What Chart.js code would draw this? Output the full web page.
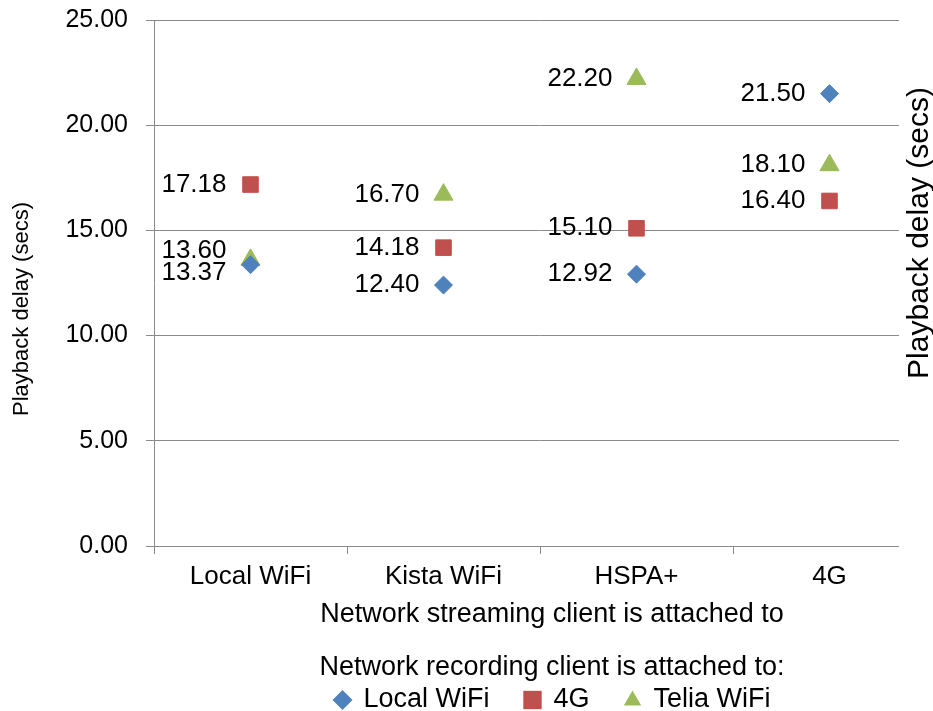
<!DOCTYPE html>
<html>
<head>
<meta charset="utf-8">
<script src="https://cdn.jsdelivr.net/npm/chart.js@4.4.1/dist/chart.umd.min.js"></script>
<style>
  html, body { margin: 0; padding: 0; background: #fff; }
  #wrap { width: 933px; height: 711px; position: relative; }
</style>
</head>
<body>
<div id="wrap"><canvas id="chart"></canvas></div>
<script>
// x axis: network the streaming client is attached to
const categories = ['Local WiFi', 'Kista WiFi', 'HSPA+', '4G'];

// playback delay (secs), one list per recording-client network
const localWifi = [13.37, 12.40, 12.92, 21.50];
const fourG     = [17.18, 14.18, 15.10, 16.40];
const teliaWifi = [13.60, 16.70, 22.20, 18.10];

const seriesNames = ['Local WiFi', '4G', 'Telia WiFi'];
const yTicks = [0, 5, 10, 15, 20, 25];

const FONT = '"Liberation Sans", Arial, sans-serif';
const GRID = '#8a8a8a';
const colors = ['#4f81bd', '#c0504d', '#9bbb59'];
const styles = ['rectRot', 'rect', 'triangle'];
const radii = [9, 11, 11];

// value labels left of each marker, nudged apart when they collide
const valueLabels = {
    id: 'valueLabels',
    afterDatasetsDraw(chart) {
        const ctx = chart.ctx;
        const byIndex = {};
        chart.data.datasets.forEach((ds, di) => {
            const meta = chart.getDatasetMeta(di);
            meta.data.forEach((pt, i) => {
                (byIndex[i] = byIndex[i] || []).push({ x: pt.x, y: pt.y, v: ds.data[i] });
            });
        });
        ctx.save();
        ctx.font = '26px ' + FONT;
        ctx.fillStyle = '#000';
        ctx.textAlign = 'right';
        ctx.textBaseline = 'middle';
        Object.values(byIndex).forEach(list => {
            list.sort((a, b) => a.y - b.y);
            for (let k = 1; k < list.length; k++) {
                const a = list[k - 1], b = list[k];
                if (b.y - a.y < 22) {
                    const mid = (a.y + b.y) / 2;
                    a.y = mid - 11;
                    b.y = mid + 11;
                }
            }
            list.forEach(l => ctx.fillText(l.v.toFixed(2), l.x - 24, l.y));
        });
        ctx.restore();
    }
};

function drawMarker(ctx, style, x, y, r) {
    ctx.beginPath();
    if (style === 'rectRot') {
        ctx.moveTo(x, y - r); ctx.lineTo(x + r, y); ctx.lineTo(x, y + r); ctx.lineTo(x - r, y);
    } else if (style === 'rect') {
        const s = r * Math.SQRT1_2;
        ctx.rect(x - s, y - s, 2 * s, 2 * s);
    } else {
        ctx.moveTo(x, y - r * 0.95);
        ctx.lineTo(x + r * 0.87, y + r * 0.55);
        ctx.lineTo(x - r * 0.87, y + r * 0.55);
    }
    ctx.closePath();
    ctx.fill();
}

// titles and legend, laid out like the original
const decorations = {
    id: 'decorations',
    afterDraw(chart) {
        const ctx = chart.ctx;
        ctx.save();
        // the right title box hides the end of the plot
        ctx.fillStyle = '#fff';
        ctx.fillRect(899, 0, 34, 560);

        ctx.fillStyle = '#000';
        ctx.textAlign = 'center';
        ctx.textBaseline = 'middle';

        ctx.save();
        ctx.translate(920, 233);
        ctx.rotate(-Math.PI / 2);
        ctx.font = '30px ' + FONT;
        ctx.fillText('Playback delay (secs)', 0, 0);
        ctx.restore();

        ctx.save();
        ctx.translate(22, 309);
        ctx.rotate(-Math.PI / 2);
        ctx.font = '22px ' + FONT;
        ctx.fillText('Playback delay (secs)', 0, 0);
        ctx.restore();

        const cx = 552;
        ctx.font = '27px ' + FONT;
        ctx.fillText('Network streaming client is attached to', cx, 615);
        ctx.fillText('Network recording client is attached to:', cx, 668);

        // legend row
        const mark = 18, gap = 12, itemGap = 34;
        const widths = seriesNames.map(n => ctx.measureText(n).width);
        const total = widths.reduce((s, w) => s + mark + gap + w, 0) + itemGap * (seriesNames.length - 1);
        let x = cx - total / 2;
        const y = 700;
        ctx.textAlign = 'left';
        seriesNames.forEach((name, i) => {
            ctx.fillStyle = colors[i];
            drawMarker(ctx, styles[i], x + mark / 2, y, i === 1 ? 13 : 10);
            ctx.fillStyle = '#000';
            ctx.fillText(name, x + mark + gap, y);
            x += mark + gap + widths[i] + itemGap;
        });
        ctx.restore();
    }
};

const seriesData = [localWifi, fourG, teliaWifi];

new Chart(document.getElementById('chart'), {
    type: 'line',
    data: {
        labels: categories,
        datasets: seriesNames.map((name, i) => ({
            label: name,
            data: seriesData[i],
            showLine: false,
            pointStyle: styles[i],
            pointRadius: radii[i],
            pointHoverRadius: radii[i],
            pointBackgroundColor: colors[i],
            pointBorderColor: colors[i],
            pointBorderWidth: 1
        }))
    },
    options: {
        responsive: true,
        maintainAspectRatio: false,
        animation: false,
        layout: { autoPadding: false, padding: { left: 0, right: 7, top: 20, bottom: 0 } },
        plugins: {
            legend: { display: false },
            tooltip: { enabled: false }
        },
        scales: {
            x: {
                type: 'category',
                offset: true,
                afterFit: s => { s.height = 165; s.paddingLeft = 0; s.paddingRight = 0; },
                grid: {
                    offset: true,
                    drawOnChartArea: false,
                    tickLength: 8,
                    color: GRID
                },
                border: { color: GRID },
                ticks: {
                    color: '#000',
                    padding: 7,
                    maxRotation: 0,
                    font: { family: FONT, size: 26 }
                }
            },
            y: {
                min: yTicks[0],
                max: yTicks[yTicks.length - 1],
                afterFit: s => { s.width = 154; s.paddingTop = 0; s.paddingBottom = 0; },
                grid: { color: GRID, tickLength: 8 },
                border: { color: GRID },
                ticks: {
                    stepSize: yTicks[1] - yTicks[0],
                    color: '#000',
                    padding: 18,
                    font: { family: FONT, size: 25 },
                    callback: v => v.toFixed(2)
                }
            }
        }
    },
    plugins: [valueLabels, decorations]
});
</script>
</body>
</html>
